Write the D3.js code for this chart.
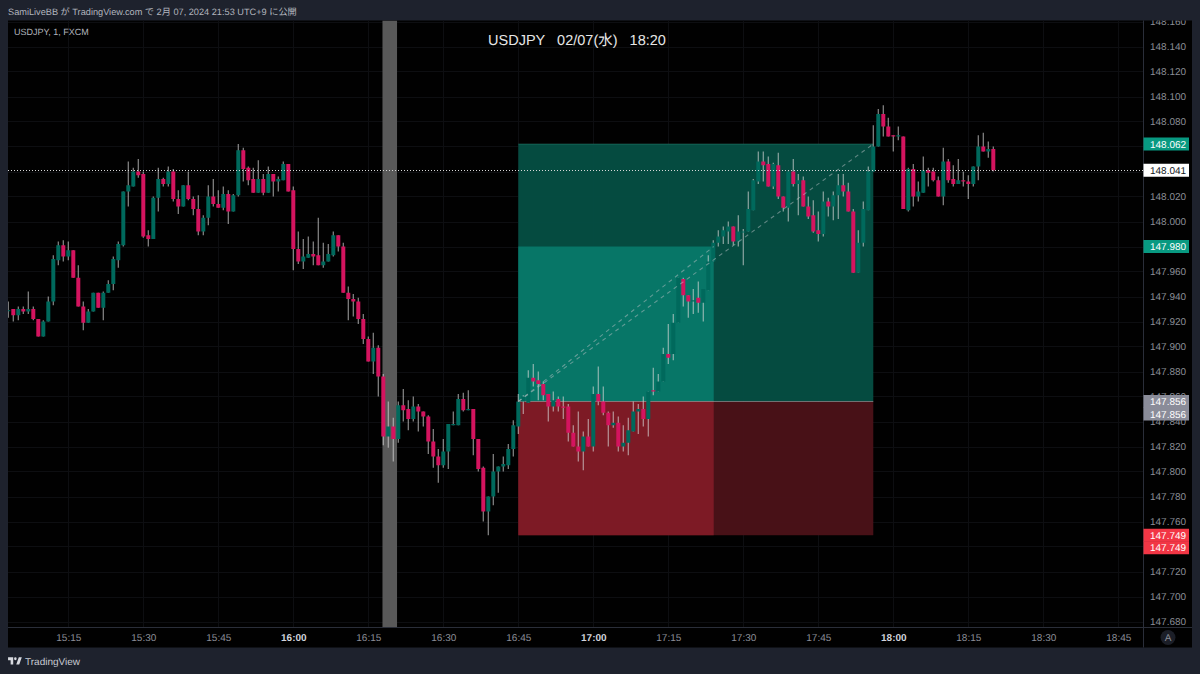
<!DOCTYPE html>
<html>
<head>
<meta charset="utf-8">
<title>USDJPY 1m</title>
<script src="https://cdn.jsdelivr.net/npm/d3@7"></script>
<style>
  html, body { margin: 0; padding: 0; background: #1e222d; }
  svg { display: block; }
  text { font-family: "Liberation Sans", Arial, sans-serif; text-rendering: geometricPrecision; }
</style>
</head>
<body>
<svg id="chart" width="1200" height="674"></svg>
<script>
// USDJPY one-minute candles, 15:03 to 18:20, one entry per minute.
const firstCandle = Date.UTC(2024, 1, 7, 15, 3);

const opens = [
147.929,147.930,147.925,147.930,147.928,147.930,147.922,147.908,147.920,147.936,
147.969,147.981,147.972,147.977,147.955,147.932,147.919,147.928,147.943,147.931,
147.943,147.950,147.969,147.981,148.024,148.028,148.040,148.038,147.989,147.986,
148.019,148.034,148.030,148.040,148.018,148.012,148.029,148.018,148.010,147.992,
148.003,148.020,148.014,148.011,148.022,148.008,148.021,148.057,148.043,148.034,
148.023,148.034,148.023,148.038,148.032,148.033,148.046,148.025,147.978,147.968,
147.971,147.974,147.973,147.965,147.968,147.973,147.989,147.980,147.943,147.938,
147.936,147.922,147.906,147.888,147.899,147.876,147.828,147.836,147.826,147.853,
147.850,147.842,147.852,147.848,147.844,147.824,147.812,147.805,147.816,147.837,
147.837,147.858,147.849,147.850,147.826,147.803,147.768,147.780,147.800,147.804,
147.805,147.818,147.836,147.856,147.855,147.875,147.873,147.870,147.862,147.852,
147.858,147.852,147.852,147.831,147.820,147.816,147.828,147.820,147.862,147.856,
147.847,147.837,147.839,147.820,147.823,147.832,147.848,147.850,147.842,147.865,
147.864,147.872,147.894,147.894,147.919,147.954,147.941,147.936,147.939,147.935,
147.945,147.968,147.983,147.988,147.992,147.996,147.984,147.992,147.992,148.009,
148.032,148.048,148.046,148.028,148.045,148.020,148.011,148.040,148.030,148.033,
148.012,148.005,147.993,147.990,148.016,148.012,148.021,148.029,148.024,148.008,
147.959,147.983,148.009,148.040,148.060,148.086,148.076,148.069,148.068,148.068,
148.009,148.042,148.020,148.023,148.041,148.040,148.033,148.020,148.048,148.034,
148.030,148.033,148.032,148.030,148.044,148.060,148.056,148.058];

const highs = [
147.936,147.930,147.932,147.932,147.944,147.932,147.922,147.921,147.940,147.973,
147.984,147.985,147.984,147.977,147.965,147.936,147.930,147.943,147.943,147.944,
147.953,147.972,147.984,148.024,148.048,148.043,148.050,148.040,147.993,148.020,
148.043,148.035,148.044,148.042,148.025,148.029,148.040,148.020,148.021,148.005,
148.029,148.034,148.025,148.028,148.025,148.022,148.062,148.059,148.044,148.043,
148.049,148.038,148.044,148.038,148.036,148.048,148.046,148.028,147.992,147.986,
147.988,147.984,148.003,147.983,147.982,147.992,147.989,147.983,147.948,147.942,
147.939,147.926,147.908,147.911,147.901,147.878,147.856,147.843,147.856,147.866,
147.857,147.860,147.854,147.848,147.845,147.834,147.818,147.826,147.838,147.848,
147.862,147.863,147.865,147.850,147.826,147.804,147.780,147.814,147.804,147.812,
147.822,147.841,147.862,147.861,147.881,147.886,147.880,147.872,147.862,147.864,
147.860,147.860,147.854,147.837,147.848,147.832,147.842,147.868,147.884,147.868,
147.848,147.848,147.844,147.837,147.843,147.856,147.854,147.860,147.864,147.883,
147.878,147.899,147.918,147.926,147.955,147.955,147.941,147.946,147.952,147.946,
147.973,147.985,147.993,147.996,148.000,147.996,148.005,147.994,148.024,148.034,
148.056,148.056,148.052,148.047,148.055,148.020,148.040,148.050,148.038,148.036,
148.020,148.017,148.008,148.024,148.019,148.024,148.038,148.038,148.031,148.010,
147.993,148.016,148.044,148.077,148.090,148.093,148.083,148.069,148.076,148.068,
148.043,148.046,148.032,148.052,148.043,148.043,148.036,148.059,148.050,148.045,
148.050,148.040,148.037,148.044,148.069,148.071,148.064,148.060];

const lows = [
147.923,147.920,147.921,147.926,147.926,147.921,147.908,147.908,147.920,147.933,
147.965,147.968,147.969,147.955,147.932,147.913,147.919,147.928,147.931,147.921,
147.943,147.945,147.963,147.980,148.012,148.028,148.035,147.987,147.980,147.986,
148.008,148.028,148.028,148.016,148.006,148.012,148.017,148.005,147.989,147.989,
147.997,148.012,148.011,148.009,147.998,148.008,148.020,148.032,148.029,148.023,
148.023,148.021,148.023,148.020,148.024,148.033,148.024,147.961,147.966,147.962,
147.971,147.965,147.965,147.963,147.968,147.972,147.976,147.943,147.921,147.924,
147.918,147.902,147.888,147.878,147.860,147.821,147.819,147.808,147.823,147.840,
147.833,147.840,147.832,147.836,147.814,147.803,147.791,147.803,147.802,147.837,
147.837,147.848,147.849,147.813,147.800,147.760,147.749,147.773,147.783,147.800,
147.802,147.812,147.830,147.846,147.855,147.868,147.857,147.857,147.840,147.848,
147.848,147.842,147.824,147.820,147.808,147.801,147.820,147.816,147.853,147.845,
147.820,147.835,147.816,147.816,147.813,147.832,147.830,147.836,147.828,147.861,
147.864,147.872,147.886,147.889,147.919,147.932,147.923,147.926,147.927,147.920,
147.945,147.968,147.980,147.982,147.982,147.981,147.980,147.965,147.992,148.009,
148.030,148.032,148.028,148.026,148.018,148.008,148.000,148.028,148.005,148.012,
148.002,147.991,147.984,147.988,148.004,148.001,148.002,148.020,148.008,147.959,
147.959,147.980,148.009,148.040,148.060,148.068,148.068,148.056,148.065,148.010,
148.008,148.012,148.016,148.023,148.028,148.032,148.020,148.013,148.031,148.028,
148.030,148.028,148.018,148.028,148.033,148.056,148.051,148.040];

const closes = [
147.929,147.925,147.930,147.928,147.930,147.922,147.908,147.920,147.936,147.970,
147.981,147.972,147.977,147.955,147.932,147.919,147.928,147.943,147.931,147.943,
147.950,147.970,147.982,148.024,148.029,148.040,148.037,147.988,147.986,148.019,
148.034,148.030,148.040,148.018,148.012,148.029,148.018,148.010,147.992,148.003,
148.020,148.014,148.011,148.022,148.008,148.021,148.057,148.042,148.033,148.023,
148.034,148.023,148.038,148.032,148.034,148.046,148.024,147.978,147.968,147.972,
147.974,147.972,147.965,147.968,147.974,147.989,147.980,147.943,147.938,147.936,
147.922,147.906,147.888,147.899,147.876,147.828,147.836,147.826,147.853,147.849,
147.842,147.852,147.848,147.844,147.824,147.812,147.805,147.816,147.838,147.838,
147.858,147.849,147.850,147.826,147.802,147.768,147.780,147.800,147.804,147.806,
147.818,147.837,147.856,147.860,147.875,147.872,147.870,147.861,147.852,147.857,
147.852,147.851,147.831,147.820,147.816,147.828,147.820,147.862,147.856,147.847,
147.837,147.839,147.820,147.823,147.833,147.848,147.850,147.842,147.864,147.864,
147.872,147.894,147.891,147.919,147.955,147.941,147.936,147.937,147.935,147.946,
147.968,147.983,147.988,147.993,147.996,147.984,147.992,147.992,148.010,148.033,
148.048,148.045,148.028,148.046,148.020,148.011,148.040,148.030,148.033,148.012,
148.004,147.992,147.990,148.016,148.012,148.021,148.029,148.024,148.008,147.959,
147.983,148.010,148.040,148.060,148.086,148.076,148.068,148.068,148.069,148.010,
148.042,148.020,148.024,148.041,148.039,148.033,148.020,148.048,148.033,148.030,
148.033,148.032,148.030,148.044,148.060,148.056,148.058,148.041];

// Long-position tool levels and its time span.
const entryPrice = 147.856;
const targetPrice = 148.062;
const innerTarget = 147.980;
const stopPrice = 147.749;
const lastPrice = 148.041;
const toolStart = Date.UTC(2024, 1, 7, 16, 45);
const toolInnerEnd = Date.UTC(2024, 1, 7, 17, 24, 5);
const toolEnd = Date.UTC(2024, 1, 7, 17, 56);
const markerStart = Date.UTC(2024, 1, 7, 16, 17, 50);
const markerEnd = Date.UTC(2024, 1, 7, 16, 20, 45);

const priceTicks = d3.range(0, 25).map(i => +(147.68 + i * 0.02).toFixed(2));
const timeTicks = d3.range(0, 15).map(i => Date.UTC(2024, 1, 7, 15, 15 + i * 15));

// Page frame and panes.
const C = {
  page: "#1e222d", pane: "#010101", sep: "#2a2e39", grid: "#0d0e11",
  up: "#00695c", down: "#d4145f", wick: "rgba(215,215,215,0.62)",
  tick: "#8b8e97"
};
const paneL = 8, paneR = 1143, paneT = 20.5, paneB = 627.5, axisR = 1192, axisB = 647.5;
const labelSize = 10;

const svg = d3.select("#chart");
svg.append("rect").attr("width", 1200).attr("height", 674).attr("fill", C.page);
svg.append("rect").attr("x", paneL).attr("y", paneT).attr("width", axisR - paneL).attr("height", axisB - paneT).attr("fill", C.pane);

const defs = svg.append("defs");
defs.append("clipPath").attr("id", "pane").append("rect")
  .attr("x", paneL).attr("y", paneT).attr("width", paneR - paneL).attr("height", paneB - paneT);
defs.append("clipPath").attr("id", "priceAxis").append("rect")
  .attr("x", paneR).attr("y", paneT).attr("width", axisR - paneR).attr("height", paneB - paneT);

const x = d3.scaleUtc()
  .domain([Date.UTC(2024, 1, 7, 15, 15), Date.UTC(2024, 1, 7, 18, 45)])
  .range([68.3, 1118.3]);
const y = d3.scaleLinear().domain([147.68, 148.16]).range([621.5, 21.5]);

const plot = svg.append("g").attr("clip-path", "url(#pane)");

// Grid.
plot.append("g").selectAll("line").data(priceTicks).join("line")
  .attr("x1", paneL).attr("x2", paneR)
  .attr("y1", d => Math.round(y(d)) + 0.5).attr("y2", d => Math.round(y(d)) + 0.5)
  .attr("stroke", C.grid);
plot.append("g").selectAll("line").data(timeTicks).join("line")
  .attr("y1", paneT).attr("y2", paneB)
  .attr("x1", d => Math.round(x(d)) + 0.5).attr("x2", d => Math.round(x(d)) + 0.5)
  .attr("stroke", C.grid);

// Vertical marker band.
plot.append("rect")
  .attr("x", x(markerStart)).attr("width", x(markerEnd) - x(markerStart))
  .attr("y", paneT).attr("height", paneB - paneT).attr("fill", "#595959");

// Position tool: reward and risk zones, inner target zone.
const zones = [
  { t0: toolStart, t1: toolEnd, p0: targetPrice, p1: entryPrice, fill: "rgba(5,80,68,0.94)" },
  { t0: toolStart, t1: toolInnerEnd, p0: innerTarget, p1: entryPrice, fill: "rgba(7,120,105,0.96)" },
  { t0: toolStart, t1: toolEnd, p0: entryPrice, p1: stopPrice, fill: "rgba(76,18,24,0.94)" },
  { t0: toolStart, t1: toolInnerEnd, p0: entryPrice, p1: stopPrice, fill: "rgba(127,27,38,0.96)" }
];
plot.append("g").selectAll("rect").data(zones).join("rect")
  .attr("x", d => x(d.t0)).attr("width", d => x(d.t1) - x(d.t0))
  .attr("y", d => y(d.p0)).attr("height", d => y(d.p1) - y(d.p0))
  .attr("fill", d => d.fill);
plot.append("line")
  .attr("x1", x(toolStart)).attr("x2", x(toolEnd))
  .attr("y1", y(entryPrice)).attr("y2", y(entryPrice))
  .attr("stroke", "rgba(190,200,200,0.5)");
plot.append("line")
  .attr("x1", x(toolStart)).attr("x2", x(toolEnd))
  .attr("y1", y(targetPrice)).attr("y2", y(targetPrice))
  .attr("stroke", "rgba(60,170,145,0.35)");

// Candles.
const candles = opens.map((o, i) => ({
  t: firstCandle + i * 60000, o, h: highs[i], l: lows[i], c: closes[i]
}));
const bars = plot.append("g");
bars.selectAll("line").data(candles).join("line")
  .attr("x1", d => x(d.t)).attr("x2", d => x(d.t))
  .attr("y1", d => y(d.h)).attr("y2", d => y(d.l))
  .attr("stroke", C.wick).attr("stroke-width", 1.25);
bars.selectAll("rect").data(candles).join("rect")
  .attr("x", d => x(d.t) - 2).attr("width", 4)
  .attr("y", d => y(Math.max(d.o, d.c)))
  .attr("height", d => Math.max(1, Math.abs(y(d.o) - y(d.c))))
  .attr("fill", d => d.c >= d.o ? C.up : C.down);

// Dashed diagonals across the position tool.
const diagonals = [
  { t1: toolInnerEnd, p1: innerTarget },
  { t1: toolEnd, p1: targetPrice }
];
plot.append("g").selectAll("line").data(diagonals).join("line")
  .attr("x1", x(toolStart)).attr("y1", y(entryPrice))
  .attr("x2", d => x(d.t1)).attr("y2", d => y(d.p1))
  .attr("stroke", "rgba(190,195,200,0.5)")
  .attr("stroke-width", 1.1)
  .attr("stroke-dasharray", "4 4");

// Last-price dotted line.
plot.append("line")
  .attr("x1", paneL).attr("x2", paneR)
  .attr("y1", Math.round(y(lastPrice)) + 0.5).attr("y2", Math.round(y(lastPrice)) + 0.5)
  .attr("stroke", "#d8d8d8").attr("stroke-dasharray", "1 2");

// Axes.
const priceAxis = svg.append("g").attr("clip-path", "url(#priceAxis)")
  .append("g").attr("transform", `translate(${paneR},0)`)
  .call(d3.axisRight(y).tickValues(priceTicks).tickFormat(d3.format(".3f")).tickSize(0).tickPadding(7));
priceAxis.select(".domain").remove();
priceAxis.selectAll("text").attr("fill", C.tick).attr("font-size", labelSize);

const timeAxis = svg.append("g").attr("transform", `translate(0,${paneB})`)
  .call(d3.axisBottom(x).tickValues(timeTicks).tickSizeOuter(0).tickSize(0).tickPadding(6)
    .tickFormat(d3.utcFormat("%H:%M")));
timeAxis.select(".domain").remove();
timeAxis.selectAll("text")
  .attr("font-size", labelSize)
  .attr("fill", d => new Date(d).getUTCMinutes() === 0 ? "#d1d4dc" : C.tick)
  .attr("font-weight", d => new Date(d).getUTCMinutes() === 0 ? 700 : 400);

// Pane separators.
svg.append("path")
  .attr("d", `M${paneR + 0.5},${paneT}V${axisB}M${paneL},${paneB}H${axisR}`)
  .attr("stroke", C.sep).attr("fill", "none");

// Price-axis tags.
const tags = [
  { p: targetPrice, label: targetPrice, fill: "#089981", ink: "#ffffff", shift: 0 },
  { p: lastPrice, label: lastPrice, fill: "#ffffff", ink: "#131722", shift: 0 },
  { p: innerTarget, label: innerTarget, fill: "#089981", ink: "#ffffff", shift: 0 },
  { p: entryPrice, label: entryPrice, fill: "#8a8c99", ink: "#ffffff", shift: 0 },
  { p: entryPrice, label: entryPrice, fill: "#8a8c99", ink: "#ffffff", shift: 12.5 },
  { p: stopPrice, label: stopPrice, fill: "#f23645", ink: "#ffffff", shift: 0 },
  { p: stopPrice, label: stopPrice, fill: "#f23645", ink: "#ffffff", shift: 12.5 }
];
const tagG = svg.append("g").selectAll("g").data(tags).join("g")
  .attr("transform", d => `translate(${paneR},${y(d.p) + d.shift})`);
tagG.append("rect").attr("x", 0.5).attr("y", -6.5).attr("width", 45.5).attr("height", 13).attr("fill", d => d.fill);
tagG.append("text").attr("x", 7).attr("dy", "0.36em")
  .attr("font-size", labelSize).attr("fill", d => d.ink)
  .text(d => d3.format(".3f")(d.label));

// Auto-scale button.
svg.append("circle").attr("cx", 1168).attr("cy", 637.5).attr("r", 7.5).attr("fill", "#1b1e27");
svg.append("text").attr("x", 1168).attr("y", 641).attr("text-anchor", "middle")
  .attr("font-size", 10).attr("fill", "#8b8e97").text("A");

// Headings.
svg.append("text").attr("x", 8).attr("y", 15)
  .attr("font-size", 9.2).attr("fill", "#b2b5be")
  .style("font-family", '"Liberation Sans", "Noto Sans CJK JP", sans-serif')
  .text("SamiLiveBB が TradingView.com で 2月 07, 2024 21:53 UTC+9 に公開");
svg.append("text").attr("x", 14).attr("y", 35)
  .attr("font-size", 9).attr("fill", "#b2b5be").text("USDJPY, 1, FXCM");
svg.append("text").attr("x", 577).attr("y", 45).attr("text-anchor", "middle")
  .attr("font-size", 14.5).attr("fill", "#e6e6e6")
  .style("font-family", '"Liberation Sans", "Noto Sans CJK JP", sans-serif')
  .style("white-space", "pre")
  .text("USDJPY   02/07(水)   18:20");

// Publisher mark.
svg.append("path")
  .attr("d", "M14 6H2v6h6v9h6V6zm14 15h-7l6-15h7l-6 15zm-9-9a3 3 0 100-6 3 3 0 000 6z")
  .attr("transform", "translate(7.2,654.3) scale(0.43,0.49)")
  .attr("fill", "#d8dae0");
svg.append("text").attr("x", 25).attr("y", 665).attr("font-size", 10).attr("fill", "#c8cad2").text("TradingView");
</script>
</body>
</html>
